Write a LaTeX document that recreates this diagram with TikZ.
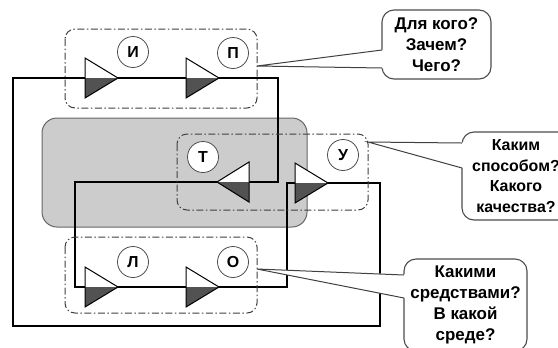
\documentclass[tikz,border=0pt]{standalone}
\usepackage{fontspec}
\setmainfont{Liberation Sans}
\usetikzlibrary{calc}
\tikzset{
  ddbox/.style={draw=black!75, line width=1bp, rounded corners=10bp, dash pattern=on 7bp off 2.5bp on 1.5bp off 2.5bp},
  flow/.style={draw=black, line width=1.1bp},
  lbl/.style={circle, draw=black!70, fill=white, line width=0.8bp, minimum size=31bp, inner sep=0pt, font=\bfseries\fontsize{16}{16}\selectfont},
  qbox/.style={draw=black!70, fill=white, line width=1.1bp, rounded corners=12bp, align=center, inner sep=0pt, font=\bfseries\fontsize{17}{21}\selectfont},
  tri/.style={draw=black, line width=1bp},
  ptr/.style={draw=black!75, line width=1bp},
}
\newcommand\RTri[2]{%
  \fill[white] (#1,#2-20) -- (#1+33,#2) -- (#1,#2+20) -- cycle;
  \fill[black!68] (#1,#2) -- (#1+33,#2) -- (#1,#2+20) -- cycle;
  \draw[tri] (#1,#2-20) -- (#1+33,#2) -- (#1,#2+20) -- cycle;}
\newcommand\LTri[2]{%
  \fill[white] (#1,#2-20) -- (#1-32,#2) -- (#1,#2+20) -- cycle;
  \fill[black!68] (#1,#2) -- (#1-32,#2) -- (#1,#2+20) -- cycle;
  \draw[tri] (#1,#2-20) -- (#1-32,#2) -- (#1,#2+20) -- cycle;}
\begin{document}
\begin{tikzpicture}[x=1bp,y=-1bp]
\useasboundingbox (0,0) rectangle (558,347);
\fill[white] (0,0) rectangle (558,347);
% grey area
\filldraw[fill=black!20, draw=black!60, line width=1bp, rounded corners=15bp] (42,118) rectangle (307,227);
% flow loop
\coordinate (f1) at (13,78);
\coordinate (f2) at (278,78);
\coordinate (f3) at (278,182);
\coordinate (f4) at (75,182);
\coordinate (f5) at (75,287);
\coordinate (f6) at (287,287);
\coordinate (f7) at (287,183);
\coordinate (f8) at (380,183);
\coordinate (f9) at (380,326);
\coordinate (f10) at (13,326);
\draw[flow] (f1) -- (f2) -- (f3) -- (f4) -- (f5) -- (f6) -- (f7) -- (f8) -- (f9) -- (f10) -- cycle;
% dash-dot groups
\draw[ddbox] (65,29) rectangle (257,108);
\draw[ddbox] (65,237) rectangle (257,313);
\draw[ddbox] (177,134) rectangle (368,210);
% triangles
\RTri{85}{78}
\RTri{186}{78}
\RTri{85}{287}
\RTri{186}{287}
\LTri{249}{182}
\RTri{295}{183}
% letters
\node[lbl] (ci) at (133,52) {И};
\node[lbl] (cp) at (233,53) {П};
\node[lbl] (cl) at (133,262) {Л};
\node[lbl] (co) at (233,262) {О};
\node[lbl] (ct) at (203,157) {Т};
\node[lbl] (cu) at (343,155) {У};
% callouts
\node[qbox, minimum width=109bp, minimum height=69bp] (q1) at (436.5,44.5) {Для кого?\\Зачем?\\Чего?};
\node[qbox, minimum width=108bp, minimum height=88bp, font=\bfseries\fontsize{16}{20.5}\selectfont] (q2) at (516,176) {Каким\\способом?\\Какого\\качества?};
\node[qbox, minimum width=123bp, minimum height=92bp] (q3) at (465.5,305) {Какими\\средствами?\\В какой\\среде?};
% pointers
\coordinate (p1) at (257,66);
\coordinate (p1a) at (382,50);
\coordinate (p1b) at (382,68);
\coordinate (p2) at (368,142);
\coordinate (p2a) at (462,143);
\coordinate (p2b) at (462,168);
\coordinate (p3) at (257,269);
\coordinate (p3a) at (404,275);
\coordinate (p3b) at (404,298);
\fill[white] (p1) -- ($(p1a)+(2.5,-0.5)$) -- ($(p1b)+(2.5,0.5)$) -- cycle;
\draw[ptr] (p1a) -- (p1) -- (p1b);
\fill[white] (p2) -- ($(p2a)+(2.5,-0.5)$) -- ($(p2b)+(2.5,0.5)$) -- cycle;
\draw[ptr] (p2a) -- (p2) -- (p2b);
\fill[white] (p3) -- ($(p3a)+(2.5,-0.5)$) -- ($(p3b)+(2.5,0.5)$) -- cycle;
\draw[ptr] (p3a) -- (p3) -- (p3b);
\end{tikzpicture}
\end{document}
